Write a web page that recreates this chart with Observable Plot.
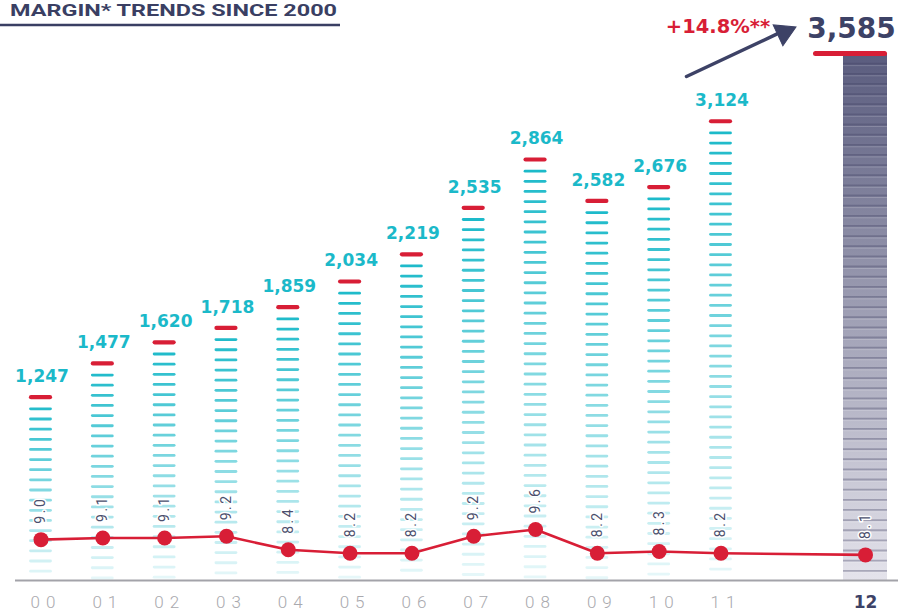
<!DOCTYPE html>
<html><head><meta charset="utf-8">
<script src="https://cdn.jsdelivr.net/npm/d3@7"></script>
<script src="https://cdn.jsdelivr.net/npm/@observablehq/plot@0.6"></script>
<style>
html,body{margin:0;padding:0;background:#fff;}
#wrap{position:relative;width:898px;height:612px;overflow:hidden;font-family:Roboto,"Open Sans",sans-serif;}
#wrap > svg{position:absolute;left:0;top:0;}
text[aria-label="year-labels"]{letter-spacing:6px;}
text[aria-label="margin-labels"]{letter-spacing:2.5px;}
</style></head><body><div id="wrap"></div>
<script>
// ---- data ----
const years   = ["00","01","02","03","04","05","06","07","08","09","10","11","12"];
const sales   = [1247,1477,1620,1718,1859,2034,2219,2535,2864,2582,2676,3124,3585];
const margins = [9.0,9.1,9.1,9.2,8.4,8.2,8.2,9.2,9.6,8.2,8.3,8.2,8.1];
const titleText   = "MARGIN* TRENDS SINCE 2000";
const growthLabel = "+14.8%**";

const data = years.map((year, i) => ({i, year, sales: sales[i], margin: margins[i]}));
const hist = data.slice(0, -1);
const last = data[data.length - 1];
const prev = hist[hist.length - 1];
const fmt = d3.format(",");

// dash rows of each bar (decoration derived from the bar's value)
const stepV = 69;
const dashes = hist.flatMap(d => {
  const out = [];
  for (let k = 1; d.sales - (k + 0.15) * stepV > 12; k++) {
    const v = d.sales - (k + 0.15) * stepV;
    out.push({i: d.i, v, f: v / d.sales});
  }
  return out;
});
const stripes = [];
for (let k = 1; last.sales - k * stepV > 10; k++) stripes.push({i: last.i, v: last.sales - k * stepV});

const W = 898, H = 612;
const xScale = {type: "linear", domain: [0, 11, 12], range: [40.5, 720.5, 865], axis: null};
const wrap = document.getElementById("wrap");
const numFont = "'DejaVu Sans', Verdana, sans-serif";

const defs = () => {
  const g = d3.create("svg:defs");
  const lg = g.append("linearGradient").attr("id", "g12").attr("x1", 0).attr("y1", 0).attr("x2", 0).attr("y2", 1);
  lg.append("stop").attr("offset", "0%").attr("stop-color", "#5a5c7e");
  lg.append("stop").attr("offset", "100%").attr("stop-color", "#e4e3eb");
  return g.node();
};

const arrowAngle = 64.9; // rotation of the arrow head (degrees)
const tag = name => () => name;

const main = Plot.plot({
  width: W, height: H,
  marginLeft: 15, marginRight: 0, marginTop: 0, marginBottom: 0,
  style: {background: "transparent", fontFamily: "Roboto, sans-serif"},
  x: xScale,
  y: {domain: [0, d3.max(sales)], range: [580, 53], axis: null},
  marks: [
    defs,
    Plot.rect([last], {x1: "i", x2: "i", y1: 0, y2: "sales", insetLeft: -22, insetRight: -22, fill: "url(#g12)"}),
    Plot.ruleY(stripes, {x1: "i", x2: "i", y: "v", insetLeft: -22, insetRight: -22, stroke: "#3f3f60", strokeOpacity: 0.35, strokeWidth: 1.8}),
    Plot.ruleY(stripes, {x1: "i", x2: "i", y: "v", dy: 2, insetLeft: -22, insetRight: -22, stroke: "#ffffff", strokeOpacity: 0.18, strokeWidth: 1}),
    Plot.ruleY([0], {stroke: "#a3a3a9", strokeWidth: 2}),
    Plot.ruleY(dashes, {x1: "i", x2: "i", y: "v", insetLeft: -10, insetRight: -10, stroke: "#17b8c8",
      strokeOpacity: d => 0.1 + 0.9 * d.f, strokeWidth: 2.8, strokeLinecap: "round"}),
    Plot.ruleY(hist, {x1: "i", x2: "i", y: "sales", insetLeft: -9.5, insetRight: -9.5, stroke: "#d81e36", strokeWidth: 4.2, strokeLinecap: "round"}),
    Plot.ruleY([last], {x1: "i", x2: "i", y: "sales", insetLeft: -49.5, insetRight: -19.5, stroke: "#d81e36", strokeWidth: 5, strokeLinecap: "round"}),
    Plot.text(hist, {x: "i", y: "sales", text: d => fmt(d.sales), dy: -15, dx: 1, lineAnchor: "bottom",
      fill: "#1bb9c9", fontSize: 17, fontWeight: 700, fontFamily: numFont}),
    Plot.text([last], {x: "i", y: "sales", text: d => fmt(d.sales), dy: -16, dx: -14, lineAnchor: "bottom",
      fill: "#3d4266", fontSize: 28, fontWeight: 700, fontFamily: numFont}),
    Plot.text([last], {x: d => d.i - 1, y: "sales", text: () => growthLabel, dy: -21, dx: -3, lineAnchor: "bottom",
      fill: "#d81e36", fontSize: 19.5, fontWeight: 700, fontFamily: numFont}),
    Plot.arrow([last], {x1: d => d.i - 1, y1: () => prev.sales, x2: "i", y2: "sales", dx: -34.5, dy: -44.8,
      insetEnd: 60, headLength: 0, stroke: "#3d4266", strokeWidth: 3.5}),
    Plot.dot([last], {x: "i", y: "sales", dx: -81.5, dy: -21, symbol: "triangle", r: 8.5, rotate: arrowAngle,
      fill: "#3d4266", stroke: "#3d4266", strokeWidth: 1}),
    Plot.text(hist, {x: "i", y: 0, text: "year", dy: 22, dx: 5, lineAnchor: "middle",
      fill: "#a9a9ae", fontSize: 17, fontWeight: 300, ariaLabel: tag("year-labels")}),
    Plot.text([last], {x: "i", y: 0, text: "year", dy: 22, lineAnchor: "middle",
      fill: "#3d4266", fontSize: 17, fontWeight: 700, fontFamily: numFont})
  ]
});
wrap.appendChild(main);

const overlay = Plot.plot({
  width: W, height: H,
  marginLeft: 0, marginRight: 0, marginTop: 0, marginBottom: 0,
  style: {background: "transparent", fontFamily: "Roboto, sans-serif"},
  x: xScale,
  y: {domain: [8.2, 9.6], range: [552.7, 529], axis: null},
  marks: [
    Plot.line(data, {x: "i", y: "margin", stroke: "#d81e36", strokeWidth: 2.6}),
    Plot.dot(data, {x: "i", y: "margin", r: 7.5, fill: "#d81e36"}),
    Plot.text(data, {x: "i", y: "margin", text: d => d.margin.toFixed(1), rotate: -90, textAnchor: "start",
      lineAnchor: "middle", dy: -16, fill: "#4b4f6d", fontSize: 14, stroke: "white", strokeWidth: 3,
      ariaLabel: tag("margin-labels")})
  ]
});
overlay.style.pointerEvents = "none";
wrap.appendChild(overlay);

// title (overlaid at the top-left)
const t = d3.create("svg").attr("width", 345).attr("height", 30).style("position", "absolute").style("left", "0px").style("top", "0px");
t.append("text").attr("x", 10).attr("y", 15.5).attr("textLength", 327).attr("lengthAdjust", "spacingAndGlyphs")
  .attr("font-family", "Roboto, sans-serif").attr("font-size", 16.5).attr("font-weight", 700).attr("fill", "#3a3f63").text(titleText);
t.append("line").attr("x1", 0).attr("x2", 340).attr("y1", 25).attr("y2", 25).attr("stroke", "#3a3f63").attr("stroke-width", 2.5);
wrap.appendChild(t.node());
</script></body></html>
